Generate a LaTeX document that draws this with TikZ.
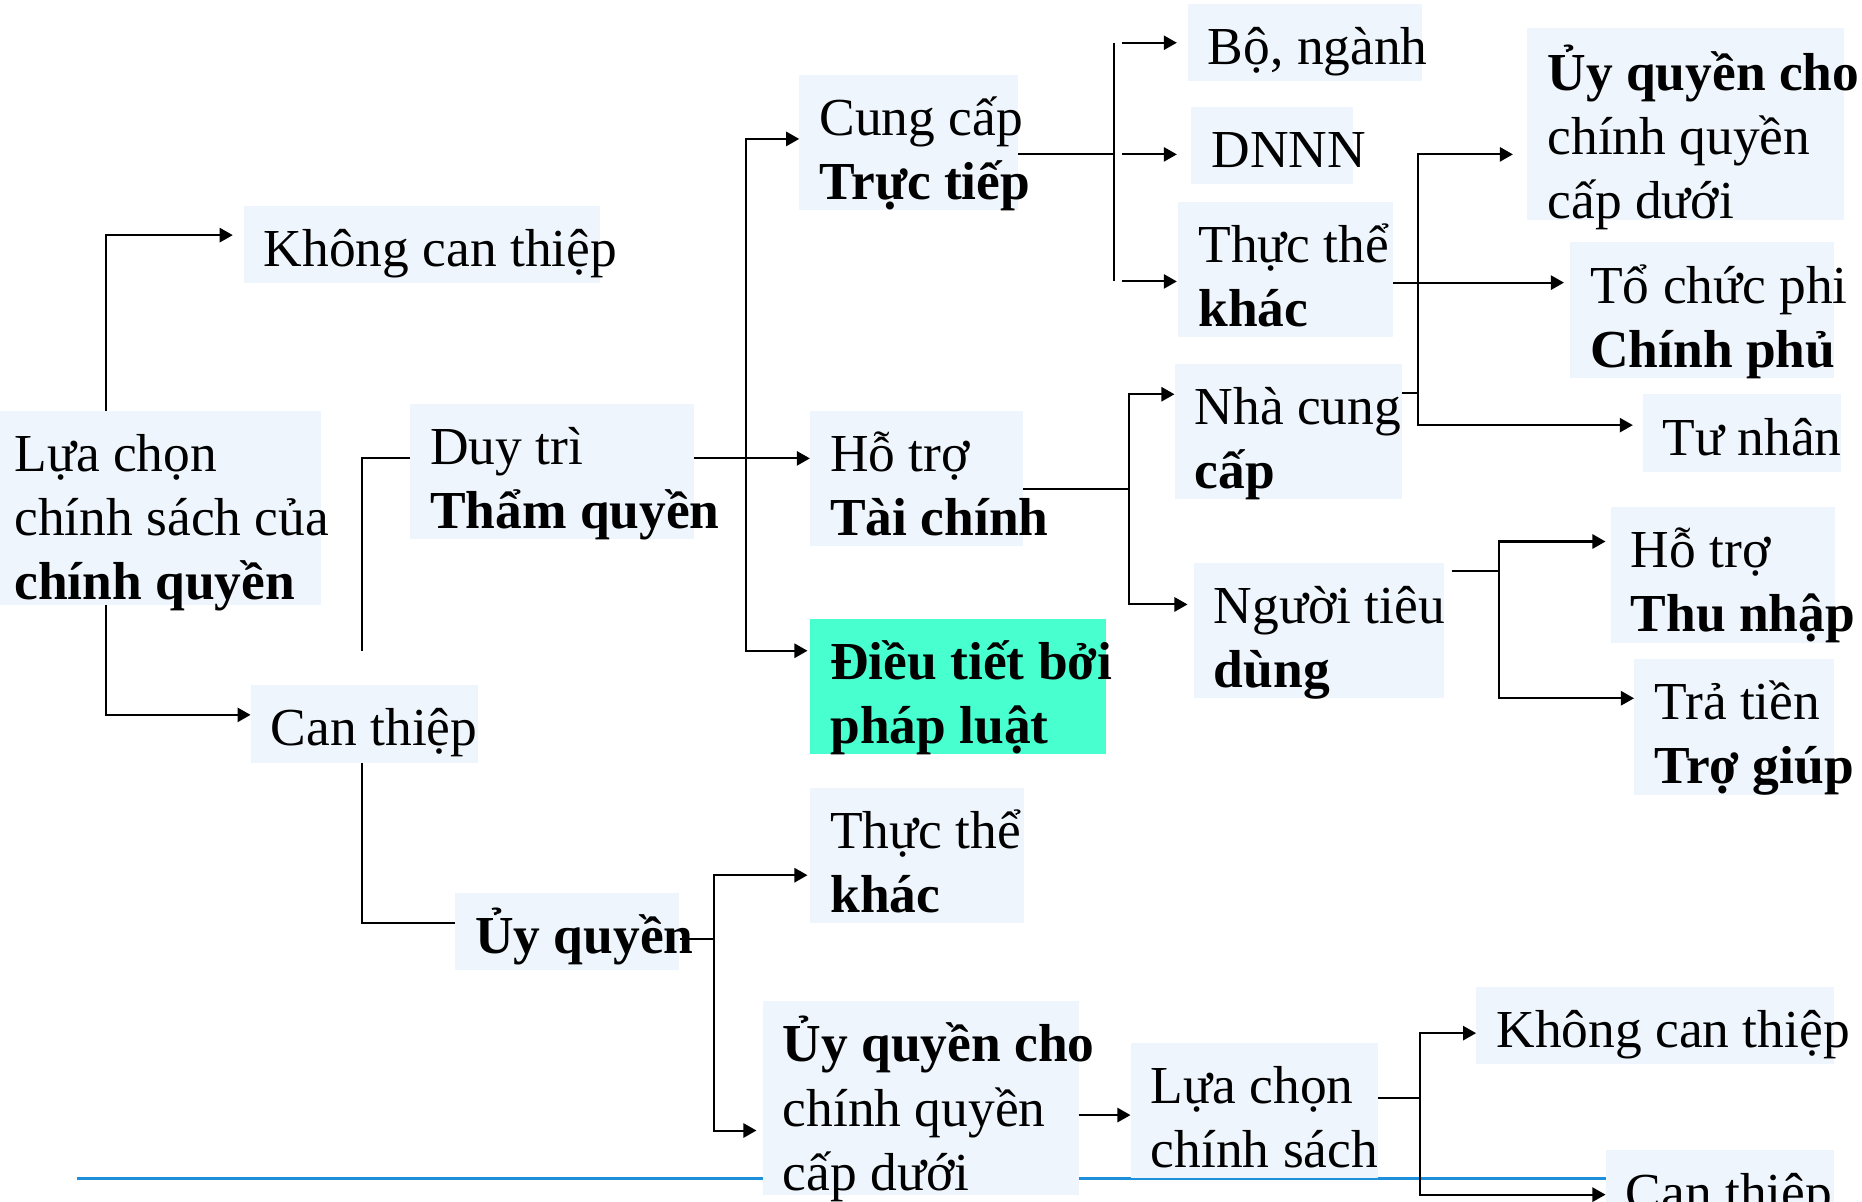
\documentclass[tikz,border=0pt]{standalone}
\usepackage{fontspec}
\setmainfont{Liberation Serif}
\usetikzlibrary{arrows.meta}
\definecolor{paleblue}{HTML}{EEF5FC}
\definecolor{mint}{HTML}{48FFD0}
\definecolor{rulebl}{HTML}{1E8FDA}
\newcommand{\boxfont}{\fontsize{45pt}{54pt}\selectfont\spaceskip=11.25pt\relax}

\begin{document}
\begin{tikzpicture}[
  x=1pt, y=-1pt,
  box/.style={fill=paleblue, anchor=north west, inner xsep=17pt, inner ysep=0pt, align=flush left, text height=51pt, font=\boxfont},
  one/.style={box, text depth=14pt},
  two/.style={box, text depth=63pt},
  three/.style={box, text depth=112pt},
  ln/.style={line width=1.7pt},
  arr/.style={ln, ->},
  >={Triangle[length=11pt,width=12pt]}
]
\useasboundingbox (0,0) rectangle (1568,1012);
\draw[rulebl, line width=2.5pt] (65,992) -- (1352,992);

% boxes, left to right
\node[one, text width=266pt] (khong1) at (205,173) {Không~can~thiệp};
\node[three, inner xsep=12pt, text width=246pt] (luachon) at (0,346) {Lựa~chọn\\chính~sách~của\\\textbf{chính~quyền}};
\node[two, text width=205pt] (duytri) at (345,340) {Duy~trì\\\textbf{Thẩm~quyền}};
\node[one, text width=157pt] (canthiep1) at (211,577) {Can~thiệp};
\node[one, text width=155pt] (uyquyen) at (383,752) {\textbf{Ủy~quyền}};
\node[two, text width=150pt] (cungcap) at (673,63) {Cung~cấp\\\textbf{Trực~tiếp}};
\node[two, text width=145pt] (hotro1) at (682,346) {Hỗ~trợ\\\textbf{Tài~chính}};
\node[two, fill=mint, text width=215pt] (dieutiet) at (682,521) {\textbf{Điều~tiết~bởi}\\\textbf{pháp~luật}};
\node[two, text width=146pt] (thucthe2) at (682,663) {Thực~thể\\\textbf{khác}};
\node[three, text width=232pt] (uqcho2) at (642,843) {\textbf{Ủy~quyền~cho}\\chính~quyền\\cấp~dưới};
\node[two, text width=174pt] (luachon2) at (952,878) {Lựa~chọn\\chính~sách};
\node[one, text width=267pt] (khong2) at (1243,831) {Không~can~thiệp};
\node[one, text width=158pt] (canthiep2) at (1352,968) {Can~thiệp};
\node[one, text width=163pt] (bonganh) at (1000,3) {Bộ,~ngành};
\node[one, text width=102pt] (dnnn) at (1003,90) {DNNN};
\node[two, text width=147pt] (thucthe1) at (992,170) {Thực~thể\\\textbf{khác}};
\node[two, text width=157pt] (nhacung) at (989,306) {Nhà~cung\\\textbf{cấp}};
\node[two, text width=177pt] (nguoitieu) at (1005,474) {Người~tiêu\\\textbf{dùng}};
\node[three, text height=53pt, text depth=109pt, text width=233pt] (uqcho1) at (1286,23) {\textbf{Ủy~quyền~cho}\\chính~quyền\\cấp~dưới};
\node[two, text width=188pt] (tochuc) at (1322,204) {Tổ~chức~phi\\\textbf{Chính~phủ}};
\node[one, text width=133pt] (tunhan) at (1383,332) {Tư~nhân};
\node[two, text width=155pt] (hotro2) at (1356,427) {Hỗ~trợ\\\textbf{Thu~nhập}};
\node[two, text width=134pt] (tratien) at (1376,555) {Trả~tiền\\\textbf{Trợ~giúp}};

% branch points
\coordinate (a1) at (89,198);
\coordinate (a2) at (89,602);
\coordinate (b1) at (305,386);
\coordinate (b2) at (305,548);
\coordinate (b3) at (305,777);
\coordinate (d1) at (628,117);
\coordinate (d2) at (628,386);
\coordinate (d3) at (628,548);
\coordinate (e1) at (938,36);
\coordinate (e2) at (938,130);
\coordinate (e3) at (938,237);
\coordinate (f1) at (1194,130);
\coordinate (f2) at (1194,238);
\coordinate (f3) at (1194,358);
\coordinate (f4) at (1194,331);
\coordinate (g0) at (951,412);
\coordinate (g1) at (951,332);
\coordinate (g2) at (951,509);
\coordinate (h0) at (1262,481);
\coordinate (h1) at (1262,456);
\coordinate (h2) at (1262,588);
\coordinate (i0) at (601,791);
\coordinate (i1) at (601,737);
\coordinate (i2) at (601,952);
\coordinate (j0) at (910,939);
\coordinate (k0) at (1196,925);
\coordinate (k1) at (1196,870);
\coordinate (k2) at (1196,1006);

% connectors
\draw[arr, shorten >=9pt] (luachon.north -| a1) |- (khong1.west |- a1);
\draw[arr] (luachon.south -| a2) |- (canthiep1.west |- a2);
\draw[ln] (duytri.west |- b1) -| (b2);
\draw[ln] (canthiep1.south -| b3) |- (uyquyen.west |- b3);

\draw[arr] (duytri.east |- d2) -- (hotro1.west |- d2);
\draw[arr] (d2) |- (cungcap.west |- d1);
\draw[arr, shorten >=2pt] (d2) |- (dieutiet.west |- d3);

\draw[ln] (cungcap.east |- e2) -- (e2);
\draw[ln] (e1) -- (e3);
\draw[arr, shorten <=7pt, shorten >=9pt] (e1) -- (bonganh.west |- e1);
\draw[arr, shorten <=7pt, shorten >=12pt] (e2) -- (dnnn.west |- e2);
\draw[arr, shorten <=7pt, shorten >=1pt] (e3) -- (thucthe1.west |- e3);

\draw[arr, shorten >=5pt] (thucthe1.east |- f2) -- (tochuc.west |- f2);
\draw[arr, shorten >=12pt] (f2) |- (uqcho1.west |- f1);
\draw[arr, shorten >=8pt] (f2) |- (tunhan.west |- f3);
\draw[ln] (nhacung.east |- f4) -- (f4);

\draw[ln] (hotro1.east |- g0) -- (g0);
\draw[arr] (g0) |- (nhacung.west |- g1);
\draw[arr, shorten >=5pt] (g0) |- (nguoitieu.west |- g2);

\draw[ln, shorten <=6pt] (nguoitieu.east |- h0) -- (h0);
\draw[arr, shorten >=4pt] (h0) |- (hotro2.west |- h1);
\draw[arr] (h0) |- (tratien.west |- h2);

\draw[ln] (uyquyen.east |- i0) -- (i0);
\draw[arr, shorten >=2pt] (i0) |- (thucthe2.west |- i1);
\draw[arr, shorten >=5pt] (i0) |- (uqcho2.west |- i2);
\draw[arr] (uqcho2.east |- j0) -- (luachon2.west |- j0);

\draw[ln] (luachon2.east |- k0) -- (k0);
\draw[arr] (k0) |- (khong2.west |- k1);
\draw[arr] (k0) |- (canthiep2.west |- k2);
\end{tikzpicture}
\end{document}
